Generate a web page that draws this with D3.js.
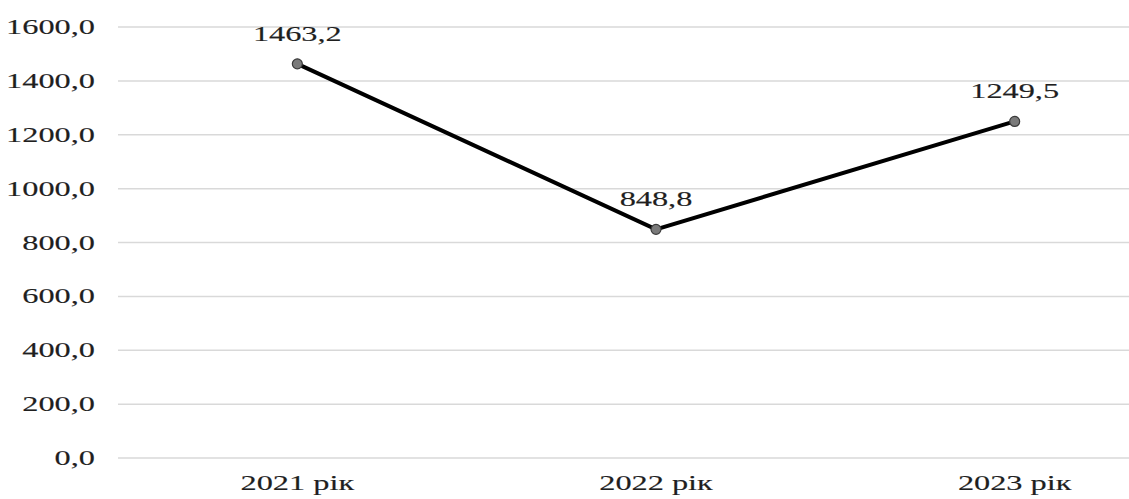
<!DOCTYPE html>
<html>
<head>
<meta charset="utf-8">
<script src="https://cdn.jsdelivr.net/npm/d3@7"></script>
<style>
  body { margin: 0; background: #fff; }
  text { font-family: "Liberation Serif", "Times New Roman", serif; fill: #1f1f1f; stroke: #1f1f1f; stroke-width: 0.15px; }
</style>
</head>
<body>
<svg id="chart" width="1129" height="499"></svg>
<script>
// Дані графіка
const roky = ['2021 рік', '2022 рік', '2023 рік'];
const znachennia = [1463.2, 848.8, 1249.5];
const tyky = [0, 200, 400, 600, 800, 1000, 1200, 1400, 1600];

const svg = d3.select('#chart');
const stretch = 1.54; // текст у оригіналі розтягнутий по горизонталі

const x = d3.scaleBand().domain(roky).range([118, 1194]);
const y = d3.scaleLinear().domain([0, 1600]).range([458, 27]);

const fmt = v => d3.format('.1f')(v).replace('.', ',');

// Сітка
svg.append('g')
    .selectAll('line')
    .data(tyky)
    .enter()
    .append('line')
    .attr('x1', 118)
    .attr('x2', 1129)
    .attr('y1', d => y(d))
    .attr('y2', d => y(d))
    .attr('stroke', '#d9d9d9')
    .attr('stroke-width', 1.5);

// Підписи осі Y
svg.append('g')
    .selectAll('text')
    .data(tyky)
    .enter()
    .append('text')
    .attr('transform', d => `translate(95,${y(d) + 7}) scale(${stretch},1)`)
    .attr('text-anchor', 'end')
    .style('font-size', '21px')
    .text(d => fmt(d));

// Підписи осі X
svg.append('g')
    .selectAll('text')
    .data(roky)
    .enter()
    .append('text')
    .attr('transform', d => `translate(${x(d) + x.bandwidth() / 2},490) scale(${stretch},1)`)
    .attr('text-anchor', 'middle')
    .style('font-size', '21px')
    .text(d => d);

const dani = roky.map((r, i) => ({ rik: r, v: znachennia[i] }));

// Лінія
const line = d3.line()
    .x(d => x(d.rik) + x.bandwidth() / 2)
    .y(d => y(d.v));

svg.append('path')
    .datum(dani)
    .attr('d', line)
    .attr('fill', 'none')
    .attr('stroke', '#000')
    .attr('stroke-width', 4);

// Маркери
svg.append('g')
    .selectAll('circle')
    .data(dani)
    .enter()
    .append('circle')
    .attr('cx', d => x(d.rik) + x.bandwidth() / 2)
    .attr('cy', d => y(d.v))
    .attr('r', 5)
    .attr('fill', '#7a7a7a')
    .attr('stroke', '#3a3a3a')
    .attr('stroke-width', 1.2);

// Підписи значень
svg.append('g')
    .selectAll('text')
    .data(dani)
    .enter()
    .append('text')
    .attr('transform', d => `translate(${x(d.rik) + x.bandwidth() / 2},${y(d.v) - 23}) scale(${stretch},1)`)
    .attr('text-anchor', 'middle')
    .style('font-size', '21px')
    .text(d => fmt(d.v));
</script>
</body>
</html>
